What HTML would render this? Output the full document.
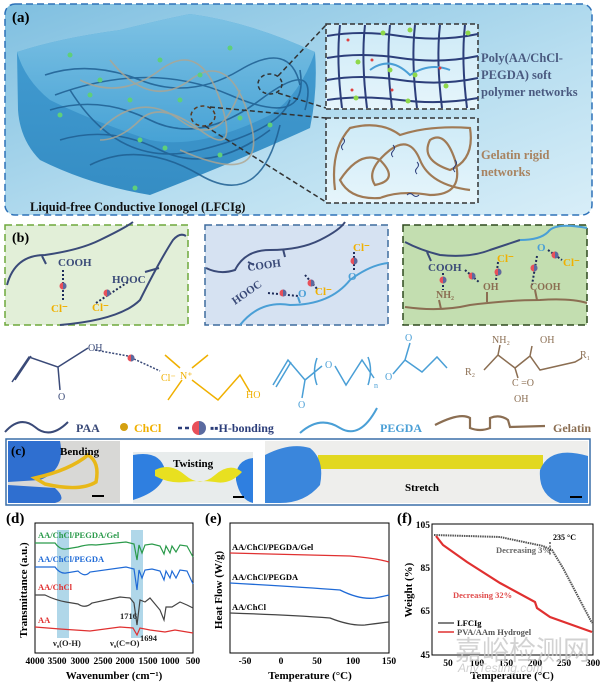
<!DOCTYPE html>
<html><head><meta charset="utf-8"><style>
html,body{margin:0;padding:0;background:#fff;}
svg{display:block}
text{font-family:"Liberation Serif",serif;}
.s{font-family:"Liberation Sans",sans-serif;}
</style></head><body>
<svg width="600" height="683" viewBox="0 0 600 683" xmlns="http://www.w3.org/2000/svg">
<defs>
<linearGradient id="bgA" x1="0" y1="0" x2="1" y2="1"><stop offset="0" stop-color="#7fbfe0"/><stop offset="0.6" stop-color="#b8def0"/><stop offset="1" stop-color="#d8eef8"/></linearGradient>
<linearGradient id="gel" x1="0" y1="0" x2="0" y2="1"><stop offset="0" stop-color="#8ccbe8"/><stop offset="1" stop-color="#4aa6d8"/></linearGradient>
<linearGradient id="gelS" x1="0" y1="0" x2="0" y2="1"><stop offset="0" stop-color="#3f9bd2"/><stop offset="1" stop-color="#2a86c0"/></linearGradient>
<linearGradient id="ins" x1="0" y1="0" x2="0" y2="1"><stop offset="0" stop-color="#cdeaf7"/><stop offset="1" stop-color="#e6f5fb"/></linearGradient>
<g id="hb"><circle r="3.5" fill="#e8505a"/><path d="M0,-3.5 a3.5,3.5 0 0 1 0,7z" fill="#5a6aa0"/></g>
</defs>
<!-- panel a -->
<rect x="5" y="4" width="587" height="211" rx="10" fill="url(#bgA)" stroke="#2e72b8" stroke-width="1.5" stroke-dasharray="7,4"/>
<text x="12" y="22" font-size="15" font-weight="bold">(a)</text>
<path d="M17,52 Q60,38 120,30 Q160,20 190,14 Q250,22 315,52 Q318,90 310,128 Q240,160 150,195 Q90,185 40,160 Q20,140 18,110 Z" fill="url(#gelS)" opacity="0.92"/>
<path d="M17,52 Q60,38 120,30 Q160,20 190,14 Q250,22 315,52 Q300,95 270,115 Q200,150 150,140 Q90,120 50,100 Q25,80 17,52Z" fill="url(#gel)" opacity="0.8"/>
<g fill="none" stroke="#1f5f92" stroke-width="1.6" opacity="0.85">
<path d="M45,75 Q90,60 140,80 T240,70 T300,85"/><path d="M50,110 Q100,95 150,120 T260,100 T305,110"/>
<path d="M60,140 Q110,125 160,150 T270,130"/><path d="M70,90 Q120,170 200,150 T290,100"/>
<path d="M90,165 Q140,140 200,175 T280,125"/><path d="M55,95 Q150,60 230,95 T300,70"/>
</g>
<g fill="none" stroke="#b0a58f" stroke-width="1.6" opacity="0.8">
<path d="M80,80 Q120,100 160,70 T220,100 T200,130 T140,120 T100,140"/><path d="M110,60 Q150,110 190,80 T250,120 T180,150"/>
<path d="M100,130 Q140,90 180,120 T240,90"/>
</g>
<g fill="#5fcf7a"><circle cx="70" cy="55" r="2.5"/><circle cx="100" cy="80" r="2.5"/><circle cx="130" cy="100" r="2.5"/><circle cx="160" cy="60" r="2.5"/><circle cx="200" cy="75" r="2.5"/><circle cx="230" cy="48" r="2.5"/><circle cx="60" cy="115" r="2.5"/><circle cx="140" cy="140" r="2.5"/><circle cx="240" cy="118" r="2.5"/><circle cx="270" cy="125" r="2.5"/><circle cx="165" cy="148" r="2.5"/><circle cx="135" cy="188" r="2.5"/><circle cx="220" cy="155" r="2.5"/><circle cx="90" cy="95" r="2.5"/><circle cx="180" cy="100" r="2.5"/></g>
<ellipse cx="270" cy="84" rx="12" ry="10" fill="none" stroke="#333" stroke-width="1.5" stroke-dasharray="4,3"/>
<ellipse cx="203" cy="116" rx="12" ry="10" fill="none" stroke="#5a3a22" stroke-width="1.5" stroke-dasharray="4,3"/>
<g stroke="#333" stroke-width="1.5" stroke-dasharray="5,3" fill="none"><line x1="278" y1="76" x2="326" y2="25"/><line x1="278" y1="93" x2="326" y2="108"/><line x1="210" y1="107" x2="326" y2="118"/><line x1="205" y1="126" x2="326" y2="202"/></g>
<!-- inset top -->
<rect x="326" y="24" width="152" height="85" fill="url(#ins)" stroke="#333" stroke-width="1.5" stroke-dasharray="5,3"/>
<g fill="none" stroke="#2c3e7a" stroke-width="2">
<path d="M327,36 Q360,30 400,36 T478,34"/><path d="M327,58 Q360,52 400,58 T478,56"/><path d="M327,80 Q360,74 400,80 T478,78"/><path d="M327,100 Q360,95 400,100 T478,98"/>
<path d="M340,25 Q336,60 342,108"/><path d="M365,25 Q361,60 367,108"/><path d="M390,25 Q386,60 392,108"/><path d="M415,25 Q411,60 417,108"/><path d="M440,25 Q436,60 442,108"/><path d="M465,25 Q461,60 467,108"/>
</g>
<path d="M370,70 Q390,55 410,75 Q430,62 450,70" fill="none" stroke="#4a9fd6" stroke-width="2"/>
<g fill="#8ed84a"><circle cx="383" cy="33" r="2.5"/><circle cx="410" cy="30" r="2.5"/><circle cx="468" cy="33" r="2.5"/><circle cx="358" cy="62" r="2.5"/><circle cx="390" cy="70" r="2.5"/><circle cx="415" cy="75" r="2.5"/><circle cx="446" cy="86" r="2.5"/><circle cx="408" cy="101" r="2.5"/><circle cx="356" cy="98" r="2.5"/></g>
<g fill="#e04040"><circle cx="348" cy="40" r="1.5"/><circle cx="372" cy="60" r="1.5"/><circle cx="440" cy="68" r="1.5"/><circle cx="352" cy="90" r="1.5"/><circle cx="392" cy="90" r="1.5"/></g>
<text x="481" y="62" font-size="12.5" font-weight="bold" fill="#4a5a80">Poly(AA/ChCl-</text>
<text x="481" y="79" font-size="12.5" font-weight="bold" fill="#4a5a80">PEGDA) soft</text>
<text x="481" y="96" font-size="12.5" font-weight="bold" fill="#4a5a80">polymer networks</text>
<!-- inset bottom -->
<rect x="326" y="118" width="152" height="85" fill="url(#ins)" stroke="#333" stroke-width="1.5" stroke-dasharray="5,3"/>
<g fill="none" stroke="#a07a55" stroke-width="2.2">
<path d="M335,190 Q330,150 350,128 Q380,120 400,135 Q430,125 470,128 Q475,160 450,170 Q420,160 430,140 Q445,130 455,160 Q465,195 430,195 Q400,190 380,198 Q350,200 340,180 Q360,150 380,160 Q400,180 375,185 Q365,170 390,150 Q410,135 420,160 Q430,185 470,190"/>
</g>
<g fill="none" stroke="#2c3e7a" stroke-width="1"><path d="M343,138 q3,3 0,6 q-3,3 0,6"/><path d="M393,145 q3,3 0,6 q-3,3 0,6"/><path d="M417,162 q3,3 0,6 q-3,3 0,6"/><path d="M455,160 q3,3 0,6 q-3,3 0,6"/><path d="M407,195 q3,-3 6,0 q3,3 6,0"/></g>
<text x="481" y="159" font-size="12.5" font-weight="bold" fill="#a88360">Gelatin rigid</text>
<text x="481" y="176" font-size="12.5" font-weight="bold" fill="#a88360">networks</text>
<text x="30" y="211" font-size="12.5" font-weight="bold" fill="#111">Liquid-free Conductive Ionogel (LFCIg)</text>

<!-- panel b boxes -->
<rect x="5" y="225" width="183" height="100" fill="#e2efd8" stroke="#6ea83c" stroke-width="1.5" stroke-dasharray="7,4"/>
<rect x="205" y="225" width="183" height="100" fill="#d6e2f2" stroke="#3f6c9e" stroke-width="1.5" stroke-dasharray="7,4"/>
<rect x="403" y="225" width="184" height="100" fill="#c3deb0" stroke="#2f4a1f" stroke-width="1.5" stroke-dasharray="7,4"/>
<text x="12" y="242" font-size="14" font-weight="bold">(b)</text>
<g fill="none" stroke="#3a4a78" stroke-width="2">
<path d="M7,285 Q15,255 45,255 Q80,250 100,240 Q125,228 133,222"/><path d="M42,256 l4,8"/>
<path d="M60,325 Q120,320 140,300 Q160,260 173,240 Q180,232 186,236"/><path d="M145,272 l14,-4"/>
<path d="M206,268 Q220,275 235,270 Q245,250 270,250 Q300,250 320,240 Q340,230 345,222"/><path d="M248,262 l6,3"/><path d="M283,249 l2,8"/>
<path d="M405,242 Q420,250 440,255 Q470,258 490,250 Q505,245 520,240"/><path d="M427,252 l4,9"/>
</g>
<g fill="none" stroke="#4a9fd6" stroke-width="2"><path d="M240,325 Q260,300 290,305 Q330,305 350,280 Q370,265 388,263"/><path d="M300,303 l-2,-6"/><path d="M520,240 Q540,240 548,232 Q555,222 587,228"/></g>
<g fill="none" stroke="#8b6e52" stroke-width="2"><path d="M405,307 Q440,312 470,305 Q510,300 540,300 Q570,298 587,303"/><path d="M441,309 l-2,-9"/><path d="M487,302 l0,-10"/><path d="M537,300 l-2,-10"/></g>
<g stroke="#1e2c5a" stroke-width="2" stroke-dasharray="2,2" fill="none">
<path d="M63,270 L63,300"/><path d="M96,303 L128,282"/><path d="M268,293 L298,296"/><path d="M305,275 L318,290"/><path d="M354,252 L354,270"/>
<path d="M443,273 L443,290"/><path d="M465,270 L480,283"/><path d="M498,262 L496,280"/><path d="M537,256 L532,285"/><path d="M548,250 L562,260"/>
</g>
<g font-size="11" font-weight="bold">
<text x="58" y="266" fill="#3a4a78">COOH</text><text x="112" y="283" fill="#3a4a78">HOOC</text>
<text x="51" y="312" fill="#f0b000">Cl⁻</text><text x="92" y="311" fill="#f0b000">Cl⁻</text>
<text x="248" y="271" fill="#3a4a78" transform="rotate(-8 248 271)">COOH</text>
<text x="235" y="305" fill="#3a4a78" transform="rotate(-35 235 305)">HOOC</text>
<text x="315" y="295" fill="#f0b000">Cl⁻</text><text x="353" y="251" fill="#f0b000">Cl⁻</text>
<text x="298" y="297" fill="#4a9fd6">O</text><text x="348" y="280" fill="#4a9fd6">O</text>
<text x="428" y="271" fill="#3a4a78">COOH</text><text x="497" y="262" fill="#f0b000">Cl⁻</text><text x="563" y="266" fill="#f0b000">Cl⁻</text>
<text x="537" y="251" fill="#4a9fd6">O</text>
<text x="436" y="298" fill="#8b6e52" font-size="10">NH₂</text><text x="483" y="290" fill="#8b6e52" font-size="10">OH</text><text x="530" y="290" fill="#8b6e52" font-size="10">COOH</text>
</g>
<use href="#hb" x="63" y="286"/><use href="#hb" x="107" y="293"/><use href="#hb" x="283" y="293"/><use href="#hb" x="311" y="283"/><use href="#hb" x="354" y="261"/>
<use href="#hb" x="443" y="280"/><use href="#hb" x="472" y="276"/><use href="#hb" x="498" y="272"/><use href="#hb" x="534" y="268"/><use href="#hb" x="555" y="255"/>

<!-- structures -->
<g fill="none" stroke-width="1.5">
<path d="M12,382 L29,357 L58,367 L60,390 M15,380 L31,356 M58,367 L88,348" stroke="#3a4a78"/>
<path d="M95,350 L128,356 M134,359 L160,371" stroke="#3a4a78" stroke-dasharray="2,1.5"/>
<path d="M165,355 L180,368 M208,355 L192,368 M168,400 L182,380 M192,380 L218,400 L240,375 L250,392" stroke="#f0b000"/>
<path d="M273,385 L288,360 L305,380 L302,398 M276,387 L291,362 M305,380 L322,366 M335,366 L346,385 L362,360 L374,378 M393,374 L405,360 L410,343 M405,360 L422,372 L437,357 L447,368" stroke="#4a9fd6"/>
<path d="M317,358 Q312,372 317,385 M368,357 Q373,370 368,385" stroke="#4a9fd6"/>
<path d="M484,370 L498,355 L515,368 L530,356 L540,370 L575,362 L582,358 M498,355 L500,345 M515,368 L518,378 M530,356 L532,346" stroke="#8b6e52"/>
</g>
<use href="#hb" x="131" y="358"/>
<g class="s" font-size="10">
<text x="58" y="400" fill="#3a4a78">O</text><text x="88" y="351" fill="#3a4a78">OH</text>
<text x="161" y="381" fill="#f0b000">Cl⁻</text><text x="180" y="379" fill="#f0b000">N⁺</text><text x="246" y="398" fill="#f0b000">HO</text>
<text x="298" y="408" fill="#4a9fd6">O</text><text x="325" y="368" fill="#4a9fd6">O</text><text x="374" y="388" fill="#4a9fd6" font-size="8">n</text><text x="385" y="380" fill="#4a9fd6">O</text><text x="405" y="341" fill="#4a9fd6">O</text>
<text x="465" y="375" fill="#8b6e52">R₂</text><text x="492" y="343" fill="#8b6e52">NH₂</text><text x="540" y="343" fill="#8b6e52">OH</text><text x="580" y="358" fill="#8b6e52">R₁</text>
<text x="512" y="386" fill="#8b6e52">C =O</text><text x="514" y="402" fill="#8b6e52">OH</text>
</g>
<!-- legend -->
<path d="M5,432 Q20,415 35,427 Q50,440 68,422" fill="none" stroke="#3a4a78" stroke-width="2"/>
<text x="76" y="432" font-size="12" font-weight="bold" fill="#3a4a78">PAA</text>
<circle cx="124" cy="427" r="4" fill="#d4a010"/><text x="134" y="432" font-size="12" font-weight="bold" fill="#f0b000">ChCl</text>
<path d="M178,428 h4 M185,428 h4" stroke="#2c3e7a" stroke-width="2.5"/><path d="M199,421 a7,7 0 0 0 0,14z" fill="#e8505a"/><path d="M199,421 a7,7 0 0 1 0,14z" fill="#5a6aa0"/>
<text x="210" y="432" font-size="12" font-weight="bold" fill="#2c3e7a">▪▪H-bonding</text>
<path d="M300,433 Q320,415 340,428 Q360,440 377,408" fill="none" stroke="#4a9fd6" stroke-width="2"/>
<text x="380" y="432" font-size="12" font-weight="bold" fill="#4a9fd6">PEGDA</text>
<path d="M435,425 Q460,412 470,418 L470,428 Q480,432 490,428 L490,418 Q500,414 508,420 L510,427 L545,426" fill="none" stroke="#8b6e52" stroke-width="2.2"/>
<text x="553" y="432" font-size="12" font-weight="bold" fill="#8b6e52">Gelatin</text>

<!-- panel c -->
<rect x="6" y="439" width="584" height="66" fill="#fff" stroke="#3a6fa8" stroke-width="1.5"/>
<rect x="8" y="441" width="112" height="62" fill="#d8d8d6"/>
<path d="M8,441 L60,441 Q66,470 40,480 L8,482Z M8,485 L55,488 Q68,500 55,503 L8,503Z" fill="#2f6fd0"/>
<path d="M35,478 Q70,470 88,455 Q100,462 96,482 Q80,492 45,484Z" fill="none" stroke="#e8b818" stroke-width="3.5"/>
<text x="60" y="455" font-size="11" font-weight="bold">Bending</text>
<text x="11" y="455" font-size="13" font-weight="bold">(c)</text>
<rect x="92" y="495" width="12" height="2" fill="#000"/>
<rect x="133" y="452" width="120" height="51" fill="#e8ecec"/>
<path d="M133,455 Q160,450 165,470 Q165,490 133,500Z M253,458 Q235,460 236,480 Q240,500 253,503Z" fill="#2f7fe0"/>
<path d="M155,470 Q170,462 185,475 Q200,488 215,475 Q230,462 242,472 Q230,485 215,482 Q200,480 185,482 Q170,484 155,476Z" fill="#e8e020"/>
<text x="173" y="467" font-size="11" font-weight="bold">Twisting</text>
<rect x="233" y="496" width="11" height="2" fill="#000"/>
<rect x="265" y="441" width="323" height="62" fill="#eeeeec"/>
<rect x="318" y="455" width="225" height="14" fill="#e2d820"/>
<path d="M265,455 Q290,442 310,448 Q325,460 320,485 Q305,503 280,503 L265,503Z M588,456 Q550,445 540,470 Q538,495 560,503 L588,503Z" fill="#3a86dc"/>
<text x="405" y="491" font-size="11" font-weight="bold">Stretch</text>
<rect x="570" y="496" width="12" height="2" fill="#000"/>

<!-- panel d -->
<text x="6" y="523" font-size="15" font-weight="bold">(d)</text>
<rect x="57" y="530" width="12" height="108" fill="#8ec6e0" opacity="0.7"/>
<rect x="131" y="530" width="12" height="108" fill="#8ec6e0" opacity="0.7"/>
<rect x="35" y="523" width="158" height="130" fill="none" stroke="#000" stroke-width="1"/>
<g fill="none" stroke-width="1.2">
<path d="M35,543 L55,543 Q60,550 66,549 L78,547 Q88,544 96,545 L126,542 L134,544 L137,560 L139,545 L142,553 L145,545 L152,544 L160,546 L164,554 L166,546 L170,553 L172,546 L176,552 L180,545 L187,546 L193,557" stroke="#2a9a4a"/>
<path d="M35,567 L55,567 Q60,574 66,573 L78,571 Q85,578 90,572 L126,567 L134,569 L137,590 L139,570 L142,578 L145,570 L152,569 L160,571 L164,580 L166,571 L170,578 L172,571 L176,578 L180,570 L187,571 L193,584" stroke="#1f6ad6"/>
<path d="M35,595 L45,595 Q55,600 66,602 L78,604 Q85,609 92,603 L120,597 L130,598 L134,603 L137,625 L140,600 L145,602 L150,598 L160,610 L164,620 L166,607 L172,607 L180,602 L187,605 L193,608" stroke="#444"/>
<path d="M35,627 L60,629 L90,631 L120,627 L133,628 L137,635 L140,628 L150,630 L165,632 L175,630 L193,633" stroke="#e03030"/>
</g>
<g font-size="8.5" font-weight="bold"><text x="38" y="538" fill="#2a9a4a">AA/ChCl/PEGDA/Gel</text><text x="38" y="562" fill="#1f6ad6">AA/ChCl/PEGDA</text><text x="38" y="590" fill="#e03030">AA/ChCl</text><text x="38" y="623" fill="#e03030">AA</text>
<text x="53" y="646" fill="#222">ν<tspan font-size="6" dy="2">s</tspan><tspan dy="-2">(O-H)</tspan></text><text x="110" y="646" fill="#222">ν<tspan font-size="6" dy="2">s</tspan><tspan dy="-2">(C=O)</tspan></text><text x="120" y="619" fill="#222">1716</text><text x="140" y="641" fill="#222">1694</text></g>
<g font-size="9.5" font-weight="bold" text-anchor="middle"><text x="35" y="664">4000</text><text x="57" y="664">3500</text><text x="80" y="664">3000</text><text x="103" y="664">2500</text><text x="125" y="664">2000</text><text x="148" y="664">1500</text><text x="170" y="664">1000</text><text x="193" y="664">500</text></g>
<text x="114" y="679" font-size="11" font-weight="bold" text-anchor="middle">Wavenumber (cm⁻¹)</text>
<text transform="translate(27,590) rotate(-90)" font-size="11" font-weight="bold" text-anchor="middle">Transmittance (a.u.)</text>

<!-- panel e -->
<text x="205" y="523" font-size="15" font-weight="bold">(e)</text>
<rect x="230" y="523" width="159" height="130" fill="none" stroke="#000"/>
<g fill="none" stroke-width="1.3"><path d="M230,553 Q300,555 350,556 Q375,558 389,562" stroke="#e03030"/><path d="M230,583 Q300,587 340,590 Q360,600 375,598 Q385,596 389,595" stroke="#1f6ad6"/><path d="M230,613 Q290,615 330,618 Q350,626 365,625 Q380,623 389,622" stroke="#444"/></g>
<g font-size="8.5" font-weight="bold"><text x="232" y="550">AA/ChCl/PEGDA/Gel</text><text x="232" y="580">AA/ChCl/PEGDA</text><text x="232" y="610">AA/ChCl</text></g>
<g font-size="9.5" font-weight="bold" text-anchor="middle"><text x="245" y="664">-50</text><text x="281" y="664">0</text><text x="317" y="664">50</text><text x="353" y="664">100</text><text x="389" y="664">150</text></g>
<text x="310" y="679" font-size="11" font-weight="bold" text-anchor="middle">Temperature (°C)</text>
<text transform="translate(222,590) rotate(-90)" font-size="11" font-weight="bold" text-anchor="middle">Heat Flow (W/g)</text>

<!-- panel f -->
<text x="397" y="523" font-size="15" font-weight="bold">(f)</text>
<rect x="432" y="524" width="161" height="131" fill="none" stroke="#000"/>
<g font-size="9.5" font-weight="bold" text-anchor="end"><text x="430" y="528">105</text><text x="430" y="571">85</text><text x="430" y="614">65</text><text x="430" y="658">45</text></g>
<g font-size="9.5" font-weight="bold" text-anchor="middle"><text x="448" y="666">50</text><text x="477" y="666">100</text><text x="506" y="666">150</text><text x="535" y="666">200</text><text x="564" y="666">250</text><text x="593" y="666">300</text></g>
<text x="512" y="679" font-size="11" font-weight="bold" text-anchor="middle">Temperature (°C)</text>
<text transform="translate(412,590) rotate(-90)" font-size="11" font-weight="bold" text-anchor="middle">Weight (%)</text>
<text x="455" y="660" font-size="27" fill="#c8c8c8" opacity="0.8" font-family="'Noto Sans CJK SC',sans-serif">嘉峪检测网</text>
<text x="458" y="672" font-size="12" fill="#d0d0d0" font-style="italic" class="s">AnyTesting.com</text>
<path d="M434,535 L500,537 L543,546 L552,550 L563,568 L592,623" fill="none" stroke="#555" stroke-width="2" stroke-dasharray="1.5,0.8"/>
<path d="M436,536 L443,545 L467,562 L500,583 L535,602 L537,608 L550,617 L592,632" fill="none" stroke="#e03030" stroke-width="2.2"/>
<line x1="550" y1="542" x2="550" y2="556" stroke="#000" stroke-dasharray="2,1.5"/>
<text x="553" y="540" font-size="8" font-weight="bold">235 °C</text>
<text x="496" y="553" font-size="8.5" font-weight="bold" fill="#666">Decreasing 3%</text>
<text x="453" y="598" font-size="8.5" font-weight="bold" fill="#e04a4a">Decreasing 32%</text>
<line x1="438" y1="623" x2="454" y2="623" stroke="#555" stroke-width="1.5"/><text x="457" y="626" font-size="8.5" font-weight="bold">LFCIg</text>
<line x1="438" y1="632" x2="454" y2="632" stroke="#e03030" stroke-width="1.5"/><text x="457" y="635" font-size="8.5" font-weight="bold" fill="#555">PVA/AAm Hydrogel</text>
</svg>
</body></html>
